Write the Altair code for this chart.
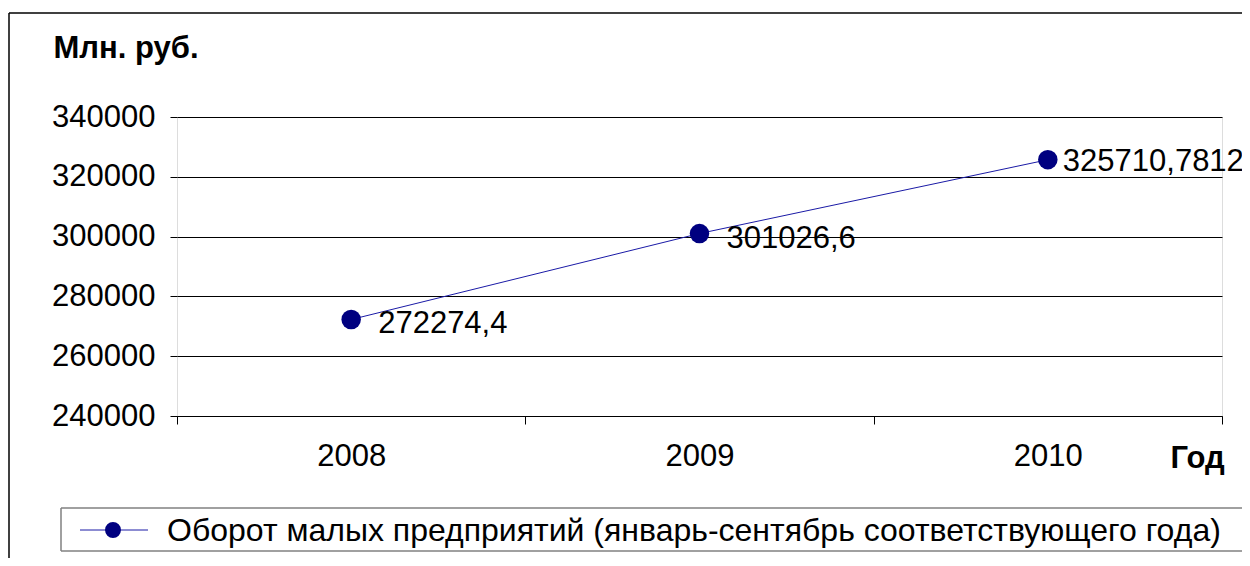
import altair as alt
import pandas as pd

# ---- data ----
years = ["2008", "2009", "2010"]
turnover = [272274.4, 301026.6, 325710.7812]
value_labels = ["272274,4", "301026,6", "325710,7812"]
y_ticks = [240000, 260000, 280000, 300000, 320000, 340000]
series_name = "Оборот малых предприятий (январь-сентябрь соответствующего года)"
y_title = "Млн. руб."
x_title = "Год"

df = pd.DataFrame({"year": years, "value": turnover, "label": value_labels})

FONT = "Liberation Sans"
NAVY = "#000080"
LINE = "#1a1aa6"

x_enc = alt.X(
    "year:O",
    scale=alt.Scale(type="band", paddingInner=0, paddingOuter=0),
    bandPosition=0.5,
    axis=alt.Axis(
        title=x_title, titleX=993, titleY=51, titleAlign="left",
        titleBaseline="alphabetic", titleFont=FONT, titleFontSize=31,
        titleFontWeight="bold", titleColor="black",
        labelFont=FONT, labelFontSize=31, labelColor="black", labelAngle=0,
        labelPadding=17, tickBand="extent", tickSize=8, tickColor="black",
        domainColor="black", domainWidth=1, grid=False,
    ),
)
y_enc = alt.Y(
    "value:Q",
    scale=alt.Scale(domain=[240000, 340000], nice=False, zero=False),
    axis=alt.Axis(
        values=y_ticks, format="d",
        title=y_title, titleAngle=0, titleX=-124, titleY=-60,
        titleAlign="left", titleBaseline="alphabetic", titleFont=FONT,
        titleFontSize=31, titleFontWeight="bold", titleColor="black",
        labelFont=FONT, labelFontSize=31, labelColor="black",
        labelPadding=15, tickSize=7, tickColor="black", domain=False,
        grid=True, gridColor="black", gridWidth=1, gridOpacity=1,
    ),
)

base = alt.Chart(df)
line = base.mark_line(color=LINE, strokeWidth=1).encode(x=x_enc, y=y_enc)
points = base.mark_circle(size=380, color=NAVY, opacity=1).encode(
    x=alt.X("year:O", bandPosition=0.5), y="value:Q"
)
labels_a = base.transform_filter(alt.datum.year != "2010").mark_text(
    align="left", baseline="middle", dx=27, dy=5, font=FONT, fontSize=31, color="black"
).encode(x=alt.X("year:O", bandPosition=0.5), y="value:Q", text="label:N")
labels_b = base.transform_filter(alt.datum.year == "2010").mark_text(
    align="left", baseline="middle", dx=15, dy=2, font=FONT, fontSize=31, color="black"
).encode(x=alt.X("year:O", bandPosition=0.5), y="value:Q", text="label:N")

one = alt.Data(values=[{"k": 1}])

# outer chart border
border_top = alt.Chart(one).mark_rule(color="black", strokeWidth=1.5).encode(
    x=alt.value(-168), x2=alt.value(1100), y=alt.value(-104)
)
border_left = alt.Chart(one).mark_rule(color="black", strokeWidth=1.5).encode(
    x=alt.value(-168), y=alt.value(-104), y2=alt.value(470)
)

# legend box drawn as four rules
BOX_L, BOX_R, BOX_T, BOX_B = -116, 1066, 391, 434
LEG_Y = 413
leg_bg = alt.Chart(one).mark_rect(fill="white").encode(
    x=alt.value(BOX_L), x2=alt.value(BOX_R), y=alt.value(BOX_T), y2=alt.value(BOX_B)
)
leg_edges = [
    alt.Chart(one).mark_rule(color="#808080", strokeWidth=1.5).encode(
        x=alt.value(BOX_L), x2=alt.value(BOX_R), y=alt.value(BOX_T)),
    alt.Chart(one).mark_rule(color="#808080", strokeWidth=1.5).encode(
        x=alt.value(BOX_L), x2=alt.value(BOX_R), y=alt.value(BOX_B)),
    alt.Chart(one).mark_rule(color="#808080", strokeWidth=1.5).encode(
        x=alt.value(BOX_L), y=alt.value(BOX_T), y2=alt.value(BOX_B)),
    alt.Chart(one).mark_rule(color="#808080", strokeWidth=1.5).encode(
        x=alt.value(BOX_R), y=alt.value(BOX_T), y2=alt.value(BOX_B)),
]
leg_line = alt.Chart(one).mark_rule(color=LINE, strokeWidth=1).encode(
    x=alt.value(-97), x2=alt.value(-29), y=alt.value(LEG_Y)
)
leg_point = alt.Chart(one).mark_circle(size=254, color=NAVY, opacity=1).encode(
    x=alt.value(-64), y=alt.value(LEG_Y)
)
leg_text = alt.Chart(one).mark_text(
    align="left", baseline="middle", font=FONT, fontSize=32, color="black"
).encode(x=alt.value(-10), y=alt.value(LEG_Y + 1), text=alt.value(series_name))

chart = alt.layer(
    line, points, labels_a, labels_b,
    border_top, border_left, leg_bg, *leg_edges, leg_line, leg_point, leg_text,
).properties(
    width=1045, height=299,
    autosize=alt.AutoSizeParams(type="none"),
    padding={"left": 169, "top": 109, "right": 20, "bottom": 142},
).configure_view(
    fill="#CCFFCC", stroke="#808080", strokeWidth=1
).configure(background="white")

chart.save("out.html", embed_options={"renderer": "svg", "actions": False})
